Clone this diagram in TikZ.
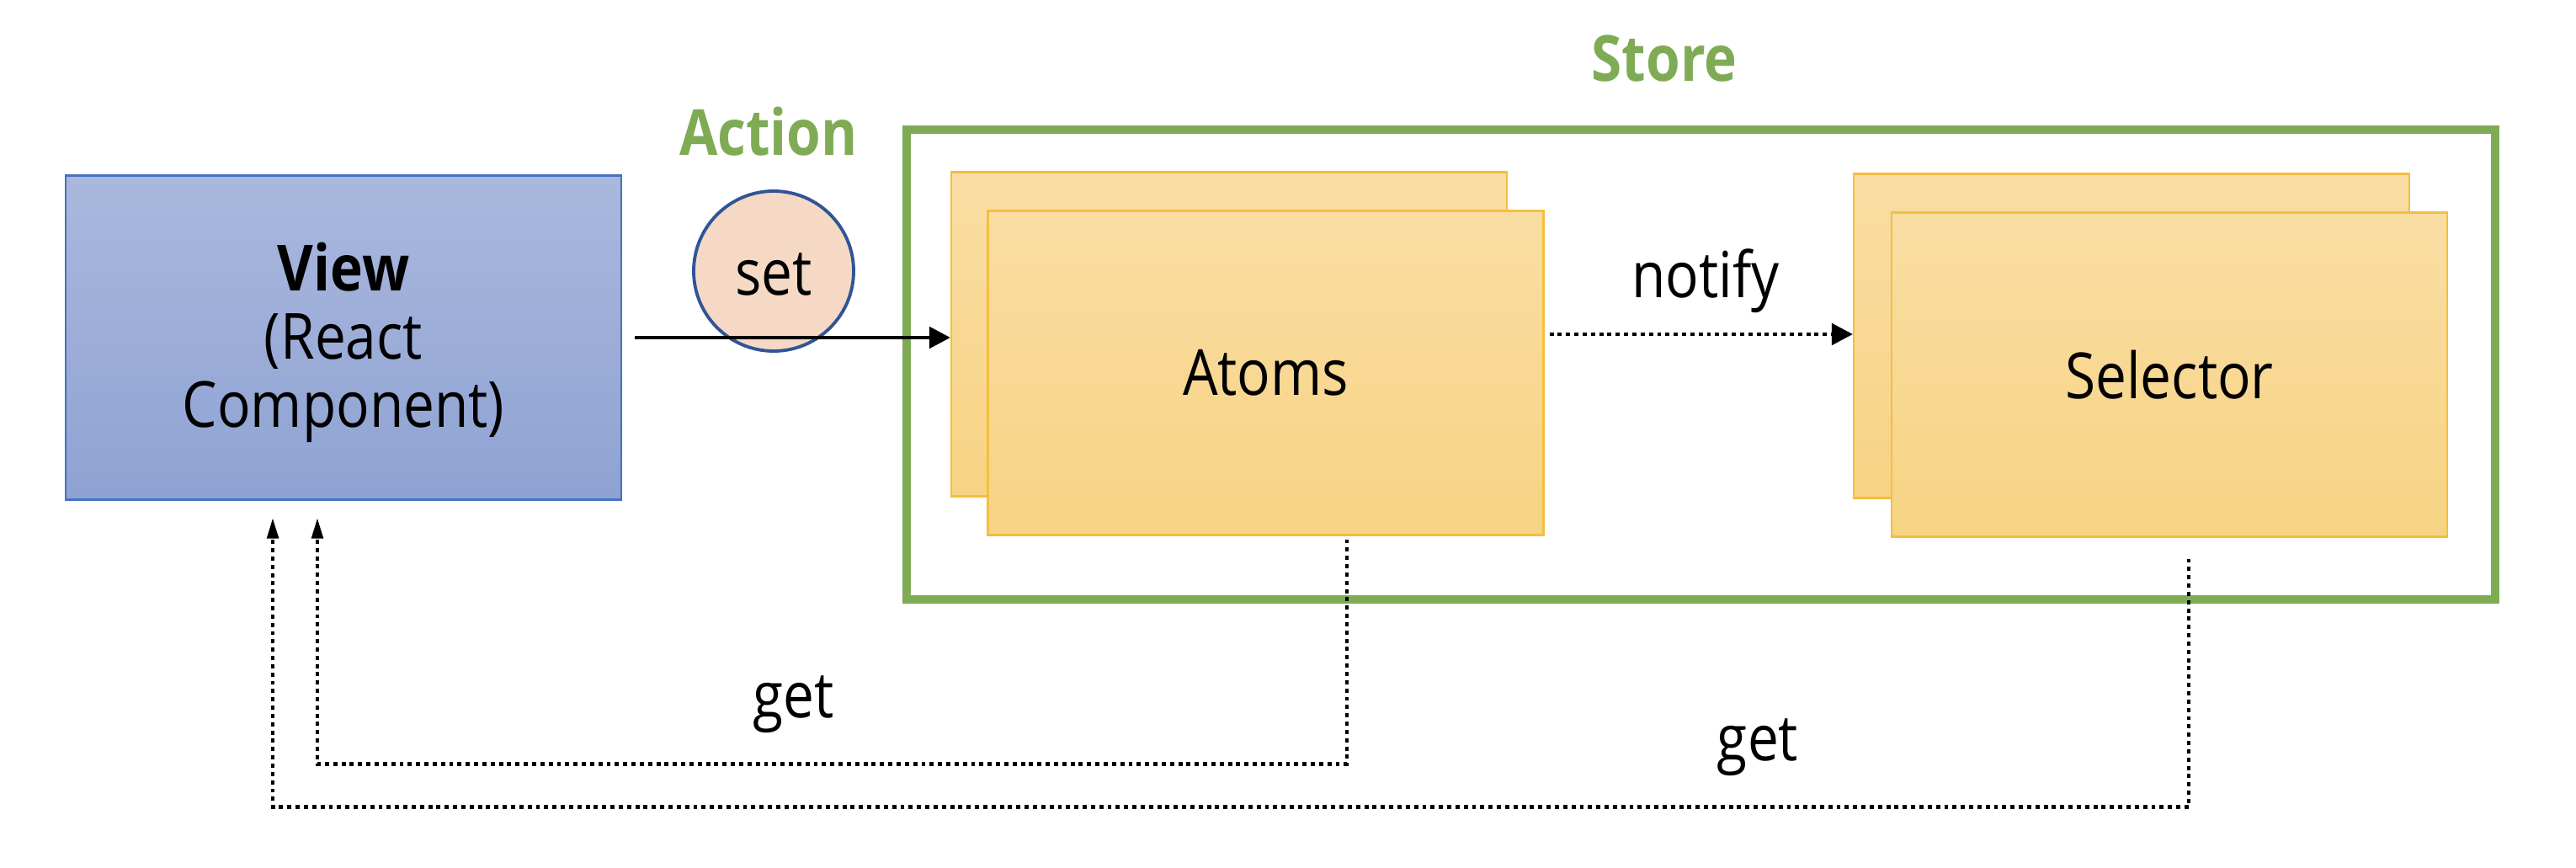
\documentclass[tikz,border=0pt]{standalone}
\usepackage{fontspec}
\setmainfont{Open Sans}[FakeStretch=0.87]
\usetikzlibrary{arrows.meta}

\definecolor{viewtop}{HTML}{AAB8DD}
\definecolor{viewbot}{HTML}{8EA2D3}
\definecolor{viewline}{HTML}{4472C4}
\definecolor{atomtop}{HTML}{F9DDA3}
\definecolor{atombot}{HTML}{F7D383}
\definecolor{atomline}{HTML}{F4BE3E}
\definecolor{storegreen}{HTML}{7FAB55}
\definecolor{setfill}{HTML}{F5D9C5}
\definecolor{setline}{HTML}{2F5597}

\tikzset{
  box/.style={rectangle, line width=0.6pt, minimum width=6.6cm, minimum height=3.85cm, align=center,
    font=\fontsize{21.5}{23}\selectfont},
  viewbox/.style={box, draw=viewline, top color=viewtop, bottom color=viewbot},
  statebox/.style={box, draw=atomline, top color=atomtop, bottom color=atombot},
  tag/.style={font=\fontsize{21.5}{23}\selectfont},
  title/.style={font=\fontsize{21.5}{23}\selectfont\bfseries, text=storegreen},
  flow/.style={line width=1.4pt, -{Triangle[length=0.25cm,width=0.25cm]}},
  notifyline/.style={flow, dash pattern=on 1.4pt off 1.4pt},
  getline/.style={line width=1.4pt, dash pattern=on 1.4pt off 1.4pt, -{Triangle[length=0.25cm,width=0.13cm]}},
}

\begin{document}
\begin{tikzpicture}
  \useasboundingbox (0,0) rectangle (30.6,10.3);
  % store frame
  \node[draw=storegreen, line width=2.8pt, minimum width=18.87cm, minimum height=5.58cm] (store) at (20.205,5.97) {};
  \node[title] (storetitle) at (19.77,9.60) {Store};
  \node[title] (actiontitle) at (9.13,8.74) {Action};
  % view
  \node[viewbox] (view) at (4.08,6.29) {};
  \node[align=center, tag] (viewtext) at ([yshift=-0.06cm]view.center) {\textbf{View}\\(React\\Component)};
  % atoms and selector
  \node[statebox] (atomsback) at (14.60,6.33) {};
  \node[statebox] (atoms) at (15.035,5.87) {Atoms};
  \node[statebox] (selback) at (25.32,6.31) {};
  \node[statebox] (selector) at (25.77,5.85) {Selector};
  % set action
  \node[circle, draw=setline, fill=setfill, line width=1.1pt, minimum size=1.9cm, tag] (set) at (9.19,7.08) {};
  \node[tag] (settext) at ([yshift=-0.04cm]set.center) {set};
  \draw[flow] ([xshift=0.15cm]view.east) -- (view.east -| atomsback.west);
  \draw[notifyline] ([xshift=0.06cm]atoms.east |- atomsback.east) -- (atomsback.east -| selback.west);
  \node[tag] (notify) at (20.26,6.96) {notify};
  % get lines
  \coordinate (geta) at ([xshift=0.965cm,yshift=-0.04cm]atoms.south);
  \coordinate (gets) at ([xshift=0.23cm,yshift=-0.25cm]selector.south);
  \coordinate (viewa) at ([xshift=-0.31cm,yshift=-0.2cm]view.south);
  \coordinate (views) at ([xshift=-0.84cm,yshift=-0.2cm]view.south);
  \draw[getline] (geta) -- ++(0,-2.67) -| (viewa);
  \draw[getline] (gets) -- ++(0,-2.95) -| (views);
  \node[tag] (geta label) at (9.43,1.93) {get};
  \node[tag] (gets label) at (20.88,1.42) {get};
\end{tikzpicture}
\end{document}
